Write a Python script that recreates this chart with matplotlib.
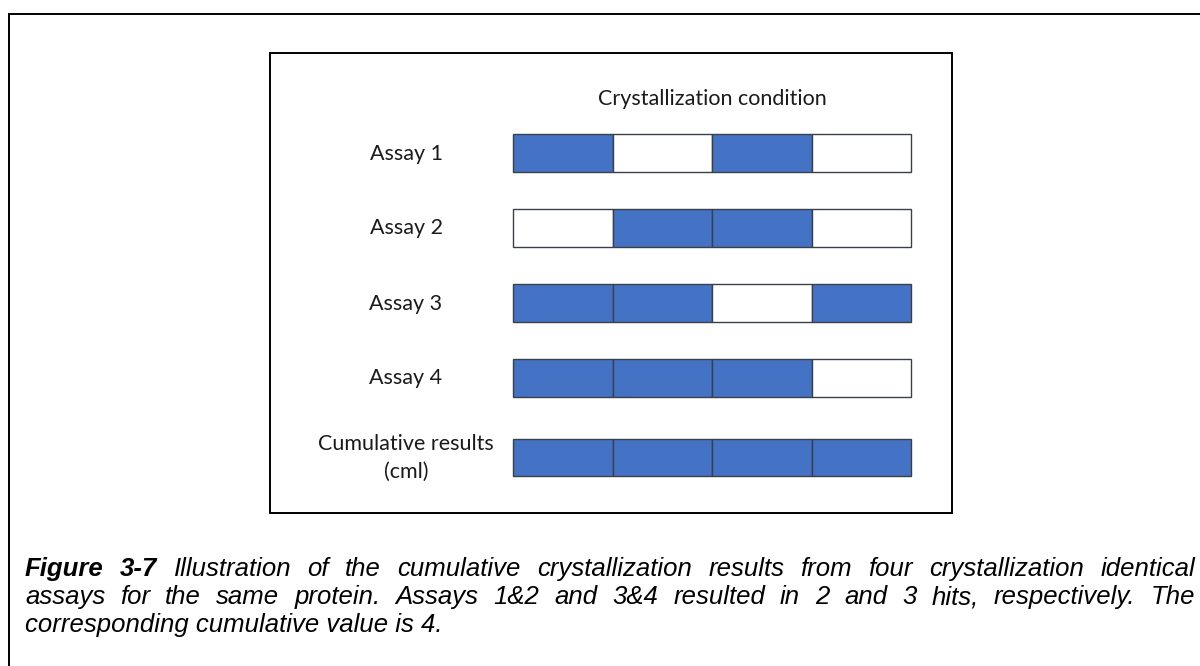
import matplotlib
matplotlib.use("Agg")
import matplotlib.pyplot as plt
from matplotlib.patches import Rectangle

# ---- data ----
row_labels = ["Assay 1", "Assay 2", "Assay 3", "Assay 4", "Cumulative results\n(cml)"]
# 1 = crystal hit (blue), 0 = no hit (white)
hits = [
    [1, 0, 1, 0],
    [0, 1, 1, 0],
    [1, 1, 0, 1],
    [1, 1, 1, 0],
    [1, 1, 1, 1],
]
header = "Crystallization condition"
caption_lines = [
    "Figure 3-7 Illustration of the cumulative crystallization results from four crystallization identical",
    "assays for the same protein. Assays 1&2 and 3&4 resulted in 2 and 3 hits, respectively. The",
    "corresponding cumulative value is 4.",
]
bold_words = ["Figure", "3-7"]

# ---- layout (pixel coords) ----
W, H = 1200, 666
row_y = [153, 228, 303, 378, 457.5]
cell_x0, cell_w, cell_h = 513, 99.5, 37.5
label_x = 406
blue = "#4472C4"
cap_size = 18.5

fig = plt.figure(figsize=(W / 100, H / 100), dpi=100)
ax = fig.add_axes([0, 0, 1, 1])
ax.set_xlim(0, W)
ax.set_ylim(H, 0)
ax.axis("off")

# outer frame (only left/top visible in the crop)
ax.plot([8.5, 8.5, W + 5], [H + 5, 14, 14], color="black", lw=1.4, solid_joinstyle="miter")
# inner box
ax.add_patch(Rectangle((270, 52.5), 682, 460.5, fill=False, ec="black", lw=1.4))

# grid of cells
for i, row in enumerate(hits):
    colors = [blue if h else "white" for h in row]
    lefts = [cell_x0 + j * cell_w for j in range(len(row))]
    ax.barh([row_y[i]] * len(row), [cell_w] * len(row), left=lefts, height=cell_h,
            color=colors, edgecolor="#3b3f48", linewidth=1.0, align="center")
    ax.text(label_x, row_y[i] + 0.5, row_labels[i], ha="center", va="center",
            fontsize=15.5, family="Lato", color="#1a1a1a", linespacing=1.5)

ax.text(cell_x0 + 2 * cell_w, 105, header, ha="center", va="baseline",
        fontsize=15.5, family="Lato", color="#1a1a1a")

# ---- justified caption ----
fig.canvas.draw()
renderer = fig.canvas.get_renderer()
cap_left, cap_right = 25, 1195
cap_base = [576, 604, 632]
for li, line in enumerate(caption_lines):
    if li == len(caption_lines) - 1:
        ax.text(cap_left, cap_base[li], line, ha="left", va="baseline",
                fontsize=cap_size, family="Liberation Sans", style="italic", color="black")
        continue
    words = line.split(" ")
    texts = []
    for w in words:
        wt = "bold" if (li == 0 and w in bold_words) else "normal"
        t = ax.text(0, cap_base[li], w, ha="left", va="baseline", fontsize=cap_size,
                    family="Liberation Sans", style="italic", weight=wt, color="black")
        texts.append(t)
    widths = [t.get_window_extent(renderer).width for t in texts]
    gap = (cap_right - cap_left - sum(widths)) / (len(words) - 1)
    x = cap_left
    for t, w in zip(texts, widths):
        t.set_x(x)
        x += w + gap

fig.savefig("out.png", dpi=100)
